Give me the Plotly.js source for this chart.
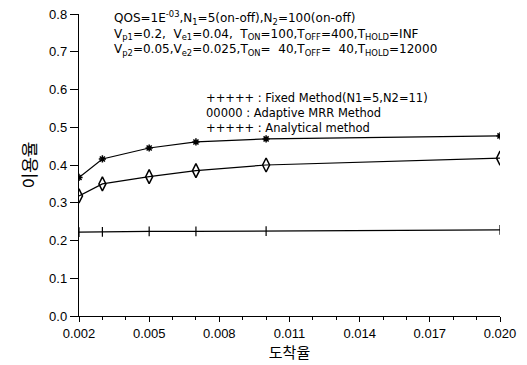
<!DOCTYPE html>
<html>
<head>
<meta charset="utf-8">
<script src="https://cdn.plot.ly/plotly-3.0.1.min.js"></script>
<style>html,body{margin:0;padding:0;background:#fff;}#chart{width:527px;height:365px;}</style>
</head>
<body>
<div id="chart"></div>
<script>
// Data
const arrivalRate = [0.002, 0.003, 0.005, 0.007, 0.010, 0.020];
const fixedMethod = [0.367, 0.416, 0.445, 0.461, 0.469, 0.477];
const adaptiveMRR = [0.318, 0.350, 0.369, 0.385, 0.400, 0.418];
const analytical = [0.222, 0.223, 0.224, 0.224, 0.225, 0.228];
const xTickVals = [0.002, 0.005, 0.008, 0.011, 0.014, 0.017, 0.020];
const xTickText = ["0.002", "0.005", "0.008", "0.011", "0.014", "0.017", "0.020"];
const yTickVals = [0, 0.1, 0.2, 0.3, 0.4, 0.5, 0.6, 0.7, 0.8];
const yTickText = ["0.0", "0.1", "0.2", "0.3", "0.4", "0.5", "0.6", "0.7", "0.8"];
const headerLines = [
  "QOS=1E<sup>-03</sup>,N<sub>1</sub>=5(on-off),N<sub>2</sub>=100(on-off)",
  "V<sub>p1</sub>=0.2,  V<sub>e1</sub>=0.04,  T<sub>ON</sub>=100,T<sub>OFF</sub>=400,T<sub>HOLD</sub>=INF",
  "V<sub>p2</sub>=0.05,V<sub>e2</sub>=0.025,T<sub>ON</sub>=  40,T<sub>OFF</sub>=  40,T<sub>HOLD</sub>=12000"
];
const legendLines = [
  "+++++ : Fixed Method(N1=5,N2=11)",
  "00000 : Adaptive MRR Method",
  "+++++ : Analytical method"
];

const lineStyle = {color: '#000', width: 1.2};
const traces = [
  {x: arrivalRate, y: fixedMethod, name: 'Fixed Method(N1=5,N2=11)', mode: 'lines+markers',
   line: lineStyle, marker: {symbol: 'asterisk-open', size: 6, color: '#000', line: {color: '#000', width: 1.5}}},
  {x: arrivalRate, y: adaptiveMRR, name: 'Adaptive MRR Method', mode: 'lines+markers',
   line: lineStyle, marker: {symbol: 'diamond-tall-open', size: 10, color: '#000', line: {color: '#000', width: 1.5}}},
  {x: arrivalRate, y: analytical, name: 'Analytical method', mode: 'lines+markers',
   line: lineStyle, marker: {symbol: 'line-ns-open', size: 7, color: '#000', line: {color: '#000', width: 1.2}}}
];

const headerFont = {family: 'DejaVu Sans, sans-serif', size: 12, color: '#000'};
const legendFont = {family: 'DejaVu Sans, sans-serif', size: 11.5, color: '#000'};
const annotations = [
  {xref: 'paper', yref: 'paper', x: 0.078, y: 0.937, xanchor: 'left', yanchor: 'middle', align: 'left',
   showarrow: false, text: headerLines.join('<br>'), font: headerFont},
  {xref: 'paper', yref: 'paper', x: 0.297, y: 0.673, xanchor: 'left', yanchor: 'middle', align: 'left',
   showarrow: false, text: legendLines.join('<br>'), font: legendFont}
];

const layout = {
  width: 527, height: 365,
  margin: {l: 79, r: 27, t: 14, b: 49},
  paper_bgcolor: '#fff', plot_bgcolor: '#fff',
  showlegend: false,
  font: {family: 'Liberation Sans, Arial, sans-serif', size: 13, color: '#000'},
  xaxis: {
    range: [0.002, 0.020], tickvals: xTickVals, ticktext: xTickText,
    ticks: 'outside', ticklen: 5, tickcolor: '#000', showline: true, linecolor: '#000', linewidth: 1.2,
    showgrid: false, zeroline: false,
    minor: {dtick: 0.001, ticks: 'outside', ticklen: 3, tickcolor: '#000'},
    title: {text: '도착율', font: {family: 'Noto Sans CJK KR', size: 15}, standoff: 6}
  },
  yaxis: {
    range: [0, 0.8], tickvals: yTickVals, ticktext: yTickText,
    ticks: 'outside', ticklen: 8, tickcolor: '#000', showline: true, linecolor: '#000', linewidth: 1.2,
    showgrid: false, zeroline: false,
    title: {text: '이용율', font: {family: 'Noto Sans CJK KR', size: 17}, standoff: 8}
  },
  annotations: annotations
};
Plotly.newPlot('chart', traces, layout, {displayModeBar: false, staticPlot: true});
</script>
</body>
</html>
